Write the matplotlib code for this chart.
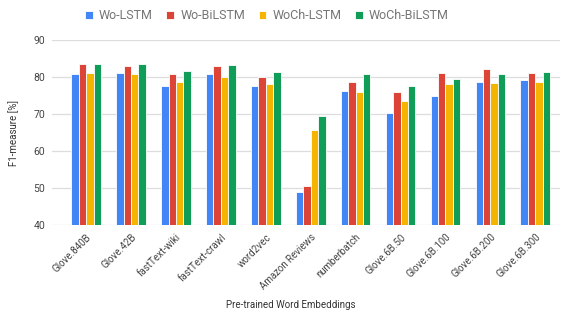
import matplotlib
matplotlib.use('Agg')
import matplotlib.pyplot as plt
import numpy as np

plt.rcParams['font.family'] = ['Roboto', 'DejaVu Sans']

embeddings = ["Glove.840B", "Glove.42B", "fastText-wiki", "fastText-crawl", "word2vec",
              "Amazon Reviews", "numberbatch", "Glove.6B.50", "Glove.6B.100",
              "Glove.6B.200", "Glove.6B.300"]
series_names = ["Wo-LSTM", "Wo-BiLSTM", "WoCh-LSTM", "WoCh-BiLSTM"]
wo_lstm = [80.8, 81.2, 77.7, 80.8, 77.7, 48.8, 76.2, 70.3, 75.0, 78.6, 79.1]
wo_bilstm = [83.6, 83.0, 80.8, 83.0, 80.0, 50.5, 78.6, 76.0, 81.2, 82.1, 81.2]
woch_lstm = [81.2, 80.8, 78.7, 79.9, 78.0, 65.8, 76.0, 73.5, 78.0, 78.3, 78.6]
woch_bilstm = [83.6, 83.6, 81.7, 83.3, 81.4, 69.4, 80.8, 77.7, 79.5, 80.8, 81.4]
y_ticks = [40, 50, 60, 70, 80, 90]

colors = ["#4285F4", "#DB4437", "#F4B400", "#0F9D58"]

fig = plt.figure(figsize=(5.62, 3.12), dpi=100)
ax = fig.add_axes([52 / 562, 1 - 225 / 312, 508 / 562, 185 / 312])

x = np.arange(len(embeddings))
bar_w = 0.165
all_series = [wo_lstm, wo_bilstm, woch_lstm, woch_bilstm]
for i, (vals, name) in enumerate(zip(all_series, series_names)):
    offset = (i - 1.5) * bar_w
    ax.bar(x + offset, np.array(vals) - 40, bottom=40, width=bar_w, color=colors[i],
           edgecolor='white', linewidth=0.6, label=name, zorder=3)

ax.set_ylim(40, 90)
ax.set_xlim(-0.76, 10.55)
ax.set_yticks(y_ticks)
ax.set_yticklabels([str(t) for t in y_ticks], fontsize=7.5, color='#444444')
ax.set_xticks(x)
ax.set_xticklabels(embeddings, rotation=45, ha='right', rotation_mode='anchor',
                   fontsize=7, color='#444444')
ax.tick_params(axis='y', length=0, pad=5)
ax.tick_params(axis='x', length=0, pad=5)
ax.grid(axis='y', color='#dddddd', linewidth=0.9, zorder=0)
for s in ax.spines.values():
    s.set_visible(False)

ax.set_ylabel("F1-measure [%]", fontsize=7, color='#333333', labelpad=10)
ax.set_xlabel("Pre-trained Word Embeddings", fontsize=7, color='#333333')
ax.xaxis.set_label_coords(0.47, -0.435)
ax.xaxis.label.set_va('center')

fig.legend(loc='center', bbox_to_anchor=(0.475, 0.95), ncol=4, frameon=False,
           fontsize=9, handlelength=0.6, handleheight=0.6, handletextpad=0.5,
           columnspacing=1.1, labelcolor='#757575')

fig.savefig("out.png", dpi=100)
